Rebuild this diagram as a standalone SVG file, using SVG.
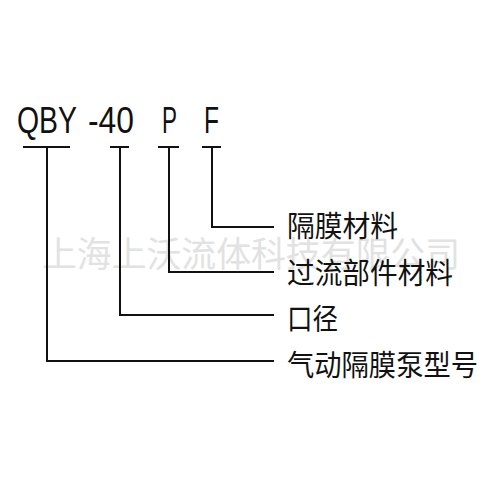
<svg xmlns="http://www.w3.org/2000/svg" width="500" height="500" viewBox="0 0 500 500">
<style>
.code{font-family:"Liberation Sans",Arial,sans-serif;font-size:36px;fill:#111}
.lbl{font-family:"Noto Sans CJK SC","Noto Sans",sans-serif;font-size:29px;fill:#111}
.wm{font-family:"Noto Sans CJK SC","Noto Sans",sans-serif;font-size:35px;fill:#e2e2e2}
.ln{stroke:#111;stroke-width:2;fill:none}
</style>
<rect width="500" height="500" fill="#fff"/>
<text class="wm" x="42" y="267" textLength="418" lengthAdjust="spacingAndGlyphs">上海上沃流体科技有限公司</text>
<g id="code">
<text class="code" x="17" y="133" textLength="60" lengthAdjust="spacingAndGlyphs">QBY</text>
<text class="code" x="88" y="133" textLength="46" lengthAdjust="spacingAndGlyphs">-40</text>
<text class="code" x="162" y="133" textLength="15" lengthAdjust="spacingAndGlyphs">P</text>
<text class="code" x="204" y="133" textLength="15" lengthAdjust="spacingAndGlyphs">F</text>
</g>
<g id="connectors">
<path class="ln" d="M23 147H70M47 147V361H274"/>
<path class="ln" d="M110 147H129M120 147V315H274"/>
<path class="ln" d="M158 147H179M169 147V272H274"/>
<path class="ln" d="M202 147H221M212 147V227H274"/>
</g>
<g id="n-membrane"><text class="lbl" x="287" y="237" textLength="111" lengthAdjust="spacingAndGlyphs">隔膜材料</text></g>
<g id="n-wetted"><text class="lbl" x="287" y="284" textLength="166" lengthAdjust="spacingAndGlyphs">过流部件材料</text></g>
<g id="n-bore"><text class="lbl" x="287" y="330" textLength="51" lengthAdjust="spacingAndGlyphs">口径</text></g>
<g id="n-model"><text class="lbl" x="287" y="376" textLength="191" lengthAdjust="spacingAndGlyphs">气动隔膜泵型号</text></g>
</svg>
